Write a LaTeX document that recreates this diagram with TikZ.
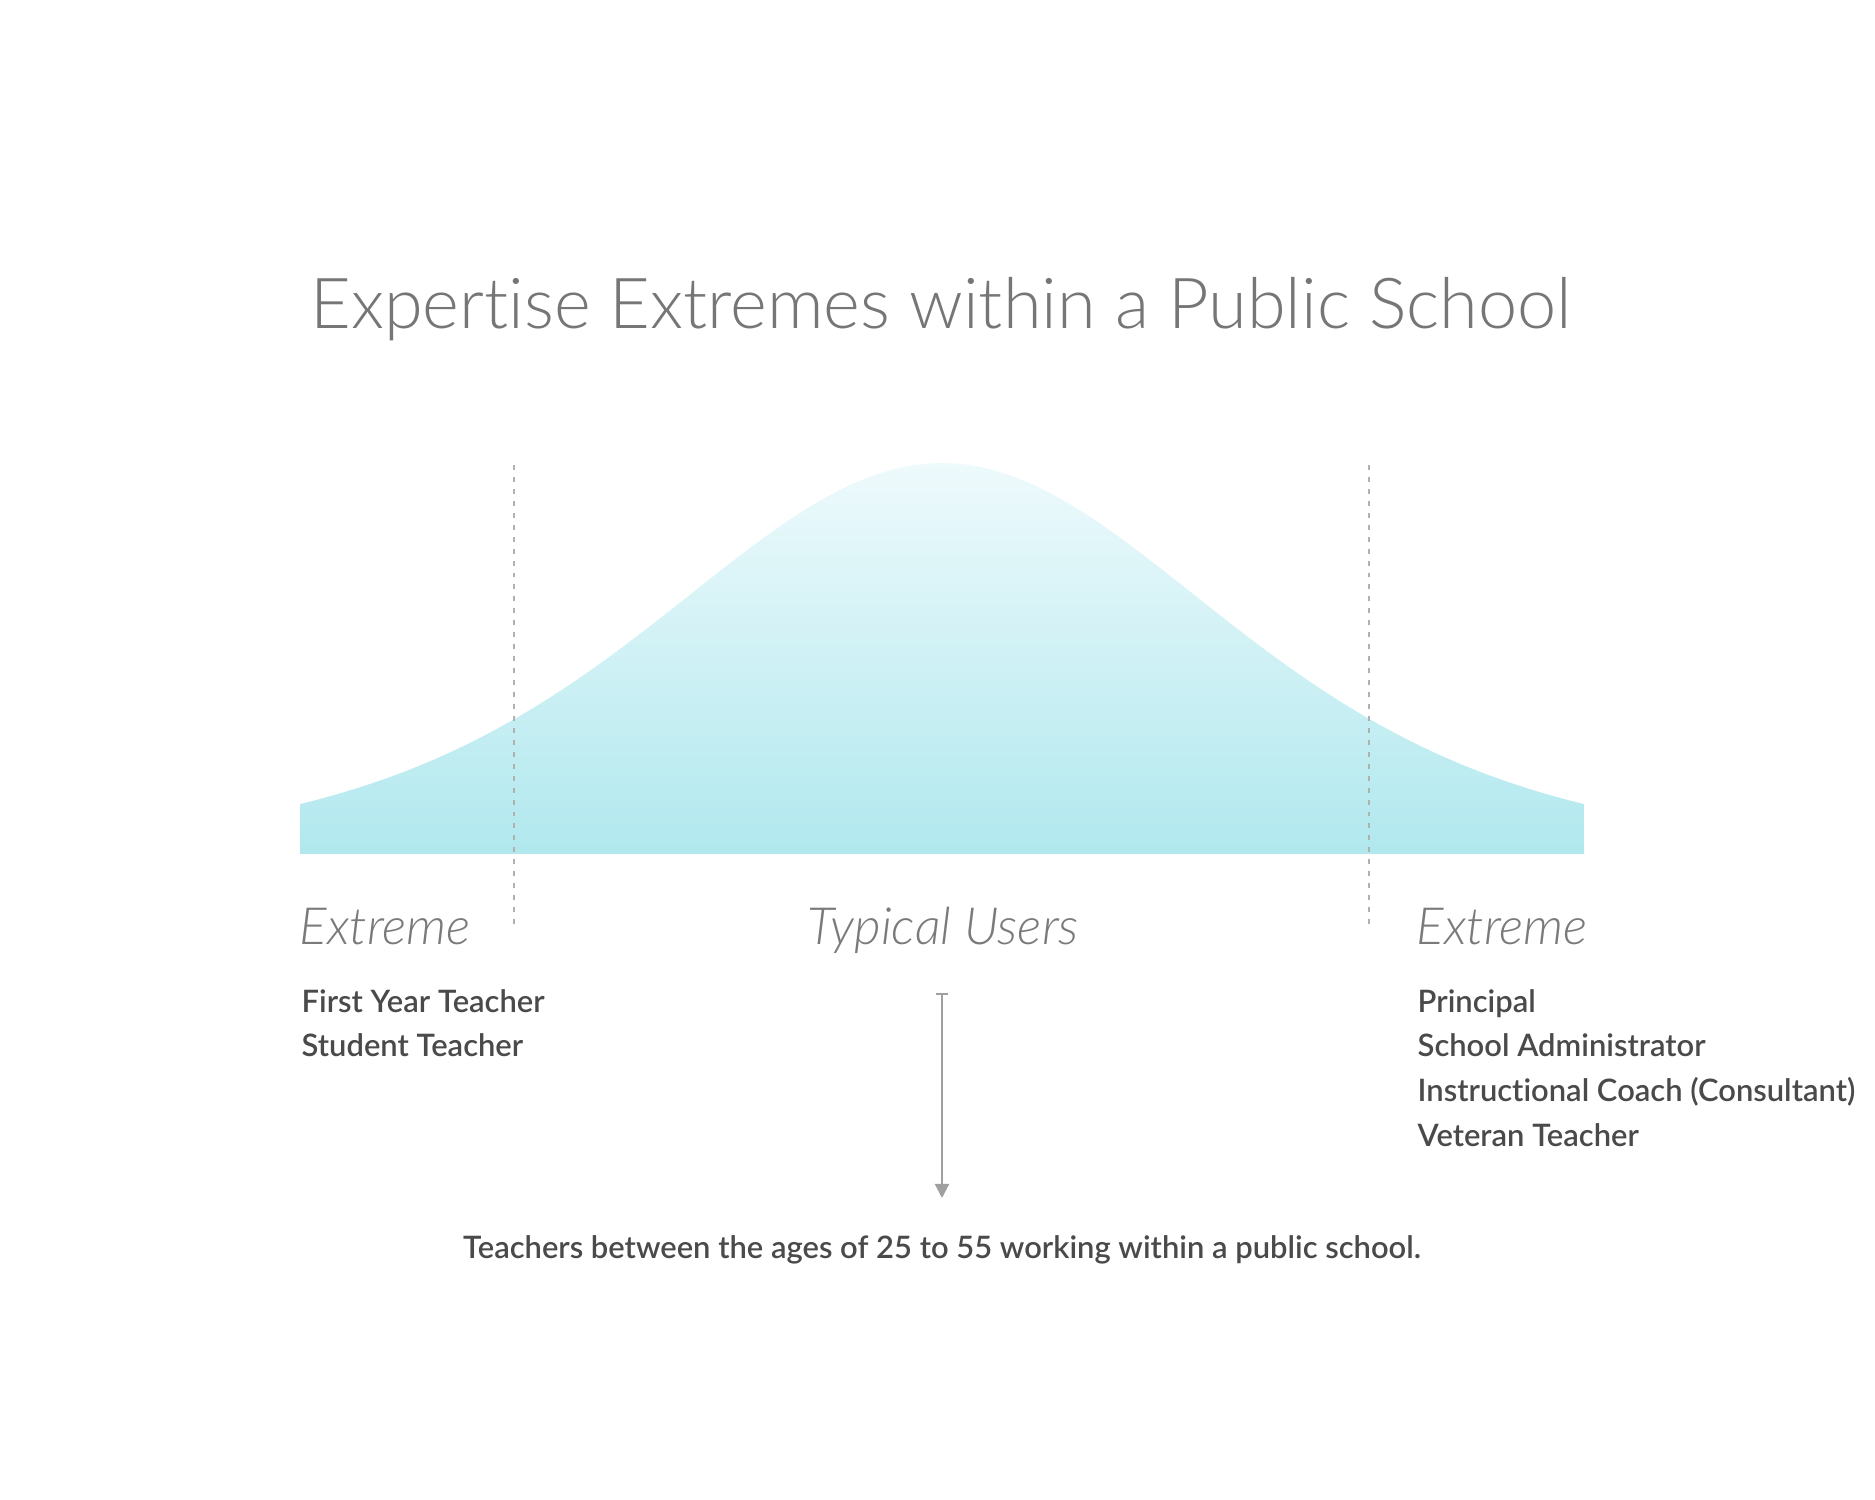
\documentclass[tikz,border=0pt]{standalone}
\usepackage{fontspec}
\setmainfont{Lato}
\newfontfamily\lightfont[Ligatures=NoCommon]{Lato Light}
\newfontfamily\semifont[Ligatures=NoCommon]{Lato Semibold}
\usetikzlibrary{arrows.meta}

\definecolor{titlegray}{HTML}{767676}
\definecolor{labelgray}{HTML}{7A7A7A}
\definecolor{rolegray}{HTML}{4A4A4A}
\definecolor{cutgray}{HTML}{B0B0B0}
\definecolor{arrowgray}{HTML}{A0A0A0}
\definecolor{curvetop}{RGB}{238,250,252}
\definecolor{curvemid}{RGB}{222,245,248}
\definecolor{curvebot}{RGB}{176,232,238}

\tikzset{
  heading/.style={font=\lightfont\fontsize{20}{24}\selectfont, text=titlegray, anchor=base, inner sep=0pt},
  group/.style={font=\lightfont\itshape\fontsize{14.6}{17}\selectfont, text=labelgray, inner sep=0pt},
  role/.style={font=\semifont\fontsize{8.8}{10}\selectfont, text=rolegray, anchor=base west, inner sep=0pt},
  cutline/.style={draw=cutgray, line width=0.6pt, dash pattern=on 1.4pt off 2pt},
  pointer/.style={draw=arrowgray, line width=0.6pt, {Bar[width=3.4pt]}-{Triangle[length=4pt,width=4pt]}},
}

\begin{document}
\begin{tikzpicture}
  \useasboundingbox (0,0) rectangle (18.75,15);
  \fill[white] (0,0) rectangle (18.75,15);

  % title
  \node[heading] (title) at (9.41,11.71) {Expertise Extremes within a Public School};

  % bell curve
  \shade[top color=curvetop, middle color=curvemid, bottom color=curvebot]
    plot[domain=-6.42:6.42, samples=120] ({9.42+\x}, {6.46+3.91/(cosh(\x/3.8))^2})
    -- (15.84,6.46) -- (3.00,6.46) -- cycle;

  % cut lines
  \coordinate (lcuttop) at (5.14,10.35);
  \coordinate (lcutbot) at (5.14,5.75);
  \coordinate (rcuttop) at (13.69,10.35);
  \coordinate (rcutbot) at (13.69,5.75);
  \draw[cutline] (lcuttop) -- (lcutbot);
  \draw[cutline] (rcuttop) -- (rcutbot);

  % groups
  \node[group, anchor=base west] (lowend) at (2.99,5.55) {Extreme};
  \node[group, anchor=base] (typical) at (9.43,5.55) {Typical Users};
  \node[group, anchor=base west] (highend) at (14.16,5.55) {Extreme};

  \node[role] (firstyear) at (3.01,4.87) {First Year Teacher};
  \node[role] (student) at (3.01,4.43) {Student Teacher};

  \node[role] (principal) at (14.17,4.87) {Principal};
  \node[role] (admin) at (14.17,4.43) {School Administrator};
  \node[role] (coach) at (14.17,3.98) {Instructional Coach (Consultant)};
  \node[role] (veteran) at (14.17,3.53) {Veteran Teacher};

  % typical users note
  \coordinate (arrtop) at (9.42,5.07);
  \coordinate (arrtip) at (9.42,3.02);
  \draw[pointer] (arrtop) -- (arrtip);
  \node[role, anchor=base] (note) at (9.42,2.41) {Teachers between the ages of 25 to 55 working within a public school.};
\end{tikzpicture}
\end{document}
